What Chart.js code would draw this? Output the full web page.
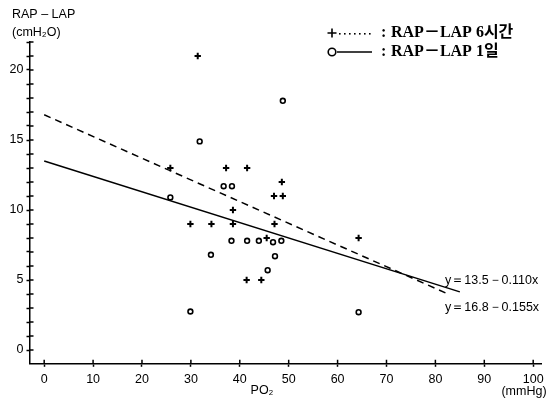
<!DOCTYPE html>
<html>
<head>
<meta charset="utf-8">
<script src="https://cdn.jsdelivr.net/npm/chart.js@4.4.0/dist/chart.umd.min.js"></script>
<style>
html,body{margin:0;padding:0;background:#fff;}
#wrap{width:556px;height:401px;position:relative;}
</style>
</head>
<body>
<div id="wrap"><canvas id="c" width="556" height="401"></canvas></div>
<script>
// ---- data ----
const sixHourX = [25.8, 37.2, 41.5, 48.6, 47.0, 48.8, 38.6, 29.9, 34.2, 38.6, 47.1, 45.5, 41.4, 44.4, 64.3, 31.4];
const sixHourY = [13, 13, 13, 12, 11, 11, 10, 9, 9, 9, 9, 8, 5, 5, 8, 21];
const oneDayX = [25.8, 36.7, 38.4, 38.3, 41.5, 43.9, 46.8, 48.5, 34.1, 47.2, 45.7, 29.9, 64.3, 31.8, 48.8];
const oneDayY = [10.9, 11.7, 11.7, 7.8, 7.8, 7.8, 7.7, 7.8, 6.8, 6.7, 5.7, 2.75, 2.7, 14.9, 17.8];
// regression lines: [intercept, slope], drawn from x=0 to the end value
const fitSixHour = [16.8, -0.155];
const fitOneDay = [13.5, -0.110];
const fitSixHourEnd = 82.5;
const fitOneDayEnd = 85;
const xTicks = [0, 10, 20, 30, 40, 50, 60, 70, 80, 90, 100];
const yTicks = [0,1,2,3,4,5,6,7,8,9,10,11,12,13,14,15,16,17,18,19,20,21,22];
const yLabels = [0, 5, 10, 15, 20];
const legendLabels = ['RAP－LAP 6시간', 'RAP－LAP 1일'];
const eqLabels = ['y＝13.5－0.110x', 'y＝16.8－0.155x'];

const pts = (xs, ys) => xs.map((x, i) => ({x: x, y: ys[i]}));
const fitPts = (f, end) => [{x: 0, y: f[0]}, {x: end, y: f[0] + f[1] * end}];

const SANS = '"Liberation Sans", "DejaVu Sans", sans-serif';
const SERIF = '"Liberation Serif", "Noto Sans CJK KR", serif';

const overlay = {
  id: 'overlay',
  afterDraw(chart) {
    const ctx = chart.ctx;
    const xs = chart.scales.x, ys = chart.scales.y;
    const ca = chart.chartArea;
    ctx.save();
    ctx.strokeStyle = '#000';
    ctx.lineWidth = 1.5;
    // inner halves of the crossing tick marks
    ctx.beginPath();
    xTicks.forEach(v => { const p = xs.getPixelForValue(v); ctx.moveTo(p, ca.bottom); ctx.lineTo(p, ca.bottom - 3.5); });
    yTicks.forEach(v => { const p = ys.getPixelForValue(v); ctx.moveTo(ca.left, p); ctx.lineTo(ca.left + 3.5, p); });
    ctx.stroke();

    ctx.fillStyle = '#000';
    // axis titles
    ctx.font = '12.5px ' + SANS;
    ctx.textBaseline = 'middle';
    ctx.textAlign = 'left';
    ctx.fillText('RAP – LAP', 12, 15);
    ctx.fillText('(cmH₂O)', 12, 33);
    ctx.textAlign = 'center';
    ctx.fillText('PO₂', 262, 391);
    ctx.fillText('(mmHg)', 524, 392);

    // regression equations
    ctx.textAlign = 'left';
    ctx.font = '12.5px ' + SANS;
    ctx.fillText(eqLabels[0], 445, 281);
    ctx.fillText(eqLabels[1], 445, 308);

    // legend
    const r1 = 33, r2 = 52;
    ctx.lineWidth = 1.6;
    ctx.beginPath();
    ctx.moveTo(327.5, r1); ctx.lineTo(336.5, r1);
    ctx.moveTo(332, r1 - 4.5); ctx.lineTo(332, r1 + 4.5);
    ctx.stroke();
    for (let x = 339; x <= 371; x += 5) { ctx.fillRect(x, r1, 1.6, 1.6); }
    ctx.beginPath();
    ctx.arc(332, r2, 3.8, 0, Math.PI * 2);
    ctx.stroke();
    ctx.beginPath();
    ctx.moveTo(337, r2); ctx.lineTo(372, r2);
    ctx.stroke();
    ctx.font = 'bold 16px ' + SERIF;
    ctx.textBaseline = 'middle';
    ctx.fillText(':', 381, r1);
    ctx.fillText(':', 381, r2);
    ctx.fillText(legendLabels[0], 391, r1);
    ctx.fillText(legendLabels[1], 391, r2);
    ctx.restore();
  }
};

new Chart(document.getElementById('c'), {
  type: 'scatter',
  data: {
    datasets: [
      { label: 'fit6', type: 'line', data: fitPts(fitSixHour, fitSixHourEnd), borderColor: '#000', borderWidth: 1.5, borderDash: [7, 5], pointRadius: 0, fill: false },
      { label: 'fit1', type: 'line', data: fitPts(fitOneDay, fitOneDayEnd), borderColor: '#000', borderWidth: 1.5, pointRadius: 0, fill: false },
      { label: legendLabels[0], data: pts(sixHourX, sixHourY), pointStyle: 'cross', pointRadius: 3.2, borderColor: '#000', backgroundColor: '#000', borderWidth: 2 },
      { label: legendLabels[1], data: pts(oneDayX, oneDayY), pointStyle: 'circle', pointRadius: 2.4, borderColor: '#000', backgroundColor: '#fff', borderWidth: 1.6 }
    ]
  },
  options: {
    responsive: false,
    animation: false,
    events: [],
    layout: { padding: { left: 0, top: 42, right: 14.5, bottom: 0 } },
    plugins: { legend: { display: false }, tooltip: { enabled: false } },
    scales: {
      x: {
        type: 'linear', min: -2.9, max: 101.7,
        afterBuildTicks: s => { s.ticks = xTicks.map(v => ({value: v})); },
        afterFit: s => { s.height = 37.7; },
        grid: { drawOnChartArea: false, drawTicks: true, tickLength: 3.5, tickWidth: 1.5, tickColor: '#000' },
        border: { display: true, color: '#000', width: 1.5 },
        ticks: { autoSkip: false, maxRotation: 0, padding: 5, color: '#000', font: { family: SANS, size: 12.5 } }
      },
      y: {
        type: 'linear', min: -0.95, max: 22,
        afterBuildTicks: s => { s.ticks = yTicks.map(v => ({value: v})); },
        afterFit: s => { s.width = 30; },
        grid: { drawOnChartArea: false, drawTicks: true, tickLength: 3.5, tickWidth: 1.5, tickColor: '#000' },
        border: { display: true, color: '#000', width: 1.5 },
        ticks: { autoSkip: false, padding: 3, color: '#000', font: { family: SANS, size: 12.5 },
          callback: v => yLabels.includes(v) ? String(v) : '' }
      }
    }
  },
  plugins: [overlay]
});
</script>
</body>
</html>
